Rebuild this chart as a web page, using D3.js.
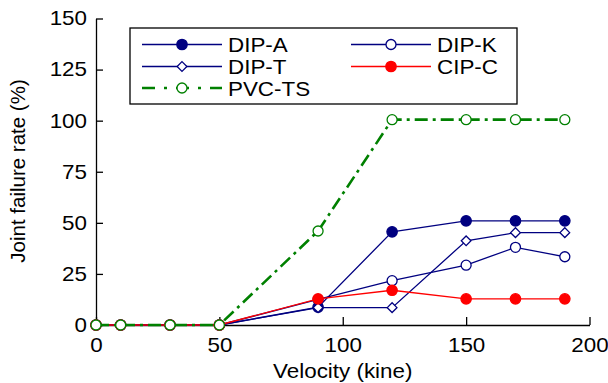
<!DOCTYPE html>
<html>
<head>
<meta charset="utf-8">
<script src="https://cdn.jsdelivr.net/npm/d3@7"></script>
<style>
  body { margin: 0; background: #fff; }
  svg { display: block; font-family: Arial, "Liberation Sans", sans-serif; }
</style>
</head>
<body>
<div class="vis-chart"></div>
<script>
// velocity values (kine)
const velocity = [0, 10, 30, 50, 90, 120, 150, 170, 190];

// joint failure rate (%) per pipe type
const dipA = [0, 0, 0, 0, 8.7, 45.6, 51, 51, 51];
const dipK = [0, 0, 0, 0, 12.5, 21.7, 29.3, 38, 33.4];
const dipT = [0, 0, 0, 0, 8.5, 8.5, 41.2, 45.2, 45.2];
const cipC = [0, 0, 0, 0, 12.8, 17, 12.8, 12.8, 12.8];
const pvcTS = [0, 0, 0, 0, 46, 100.5, 100.5, 100.5, 100.5];

const xTicks = [0, 50, 100, 150, 200];
const yTicks = [0, 25, 50, 75, 100, 125, 150];

const series = [
  { name: "DIP-A", values: dipA, color: "#000080", marker: "circle", filled: true },
  { name: "DIP-K", values: dipK, color: "#000080", marker: "circle", filled: false },
  { name: "DIP-T", values: dipT, color: "#000080", marker: "diamond", filled: false },
  { name: "CIP-C", values: cipC, color: "#ff0000", marker: "circle", filled: true },
  { name: "PVC-TS", values: pvcTS, color: "#008000", marker: "circle", filled: false, dashed: true }
];

const W = 608, H = 383;
const FS = 20;      // font size
const SX = 1.12;    // horizontal stretch of the lettering

const svg = d3.select(".vis-chart").append("svg")
  .attr("width", W).attr("height", H);

const x = d3.scaleLinear().domain([0, 200]).range([96, 589.5]);
const y = d3.scaleLinear().domain([0, 150]).range([325, 18.5]);

// axes (ticks pointing inward)
const gx = svg.append("g")
  .attr("transform", "translate(0," + y(0) + ")")
  .call(d3.axisBottom(x).tickValues(xTicks).tickSizeInner(-8).tickSizeOuter(0).tickPadding(13));
const gy = svg.append("g")
  .attr("transform", "translate(" + x(0) + ",0)")
  .call(d3.axisLeft(y).tickValues(yTicks).tickSizeInner(-7).tickSizeOuter(0).tickPadding(9));

[gx, gy].forEach(g => {
  g.select(".domain").attr("stroke", "#000").attr("stroke-width", 1.3);
  g.selectAll(".tick line").attr("stroke", "#000").attr("stroke-width", 1.3);
  g.selectAll("text").attr("font-size", FS).attr("fill", "#000")
    .attr("font-family", "Arial, 'Liberation Sans', sans-serif")
    .attr("transform", "scale(" + SX + ",1)");
});
gy.selectAll("text").attr("x", -9 / SX);

// axis labels
svg.append("text")
  .attr("transform", "translate(" + (x(0) + x(200)) / 2 + ",378) scale(" + SX + ",1)")
  .attr("text-anchor", "middle")
  .attr("font-size", FS)
  .text("Velocity (kine)");

svg.append("text")
  .attr("transform", "rotate(-90)")
  .attr("x", -171)
  .attr("y", 25)
  .attr("text-anchor", "middle")
  .attr("font-size", 20.5)
  .text("Joint failure rate (%)");

const diamond = d3.symbol().type(d3.symbolDiamond2).size(60);

function drawMarker(g, s, cx, cy) {
  if (s.marker === "diamond") {
    g.append("path")
      .attr("d", diamond())
      .attr("transform", "translate(" + cx + "," + cy + ")")
      .attr("fill", s.filled ? s.color : "#fff")
      .attr("stroke", s.color)
      .attr("stroke-width", 1.3);
  } else {
    g.append("circle")
      .attr("cx", cx).attr("cy", cy)
      .attr("r", s.filled ? 5.2 : 5)
      .attr("fill", s.filled ? s.color : "#fff")
      .attr("stroke", s.color)
      .attr("stroke-width", 1.3);
  }
}

// series lines + markers
const line = d3.line()
  .x((d, i) => x(velocity[i]))
  .y(d => y(d));

series.forEach(s => {
  const g = svg.append("g");
  g.append("path")
    .datum(s.values)
    .attr("fill", "none")
    .attr("stroke", s.color)
    .attr("stroke-width", s.dashed ? 2.6 : 1.3)
    .attr("stroke-dasharray", s.dashed ? "13,5,3,5" : null)
    .attr("d", line);
  s.values.forEach((v, i) => drawMarker(g, s, x(velocity[i]), y(v)));
});

// legend
const legend = svg.append("g");
legend.append("rect")
  .attr("x", 130).attr("y", 28)
  .attr("width", 387).attr("height", 76)
  .attr("fill", "#fff")
  .attr("stroke", "#000")
  .attr("stroke-width", 1.3);

const legPos = [
  { lx: 142, ly: 44.5 }, { lx: 351, ly: 44.5 },
  { lx: 142, ly: 66.5 }, { lx: 351, ly: 66.5 },
  { lx: 142, ly: 88 }
];

series.forEach((s, i) => {
  const p = legPos[i];
  const g = legend.append("g");
  g.append("line")
    .attr("x1", p.lx).attr("x2", p.lx + 80)
    .attr("y1", p.ly).attr("y2", p.ly)
    .attr("stroke", s.color)
    .attr("stroke-width", s.dashed ? 2.6 : 1.3)
    .attr("stroke-dasharray", s.dashed ? "13,9,3,9" : null);
  drawMarker(g, s, p.lx + 40, p.ly);
  g.append("text")
    .attr("transform", "translate(" + (p.lx + 86) + "," + (p.ly + 7.5) + ") scale(" + SX + ",1)")
    .attr("font-size", FS)
    .text(s.name);
});
</script>
</body>
</html>
